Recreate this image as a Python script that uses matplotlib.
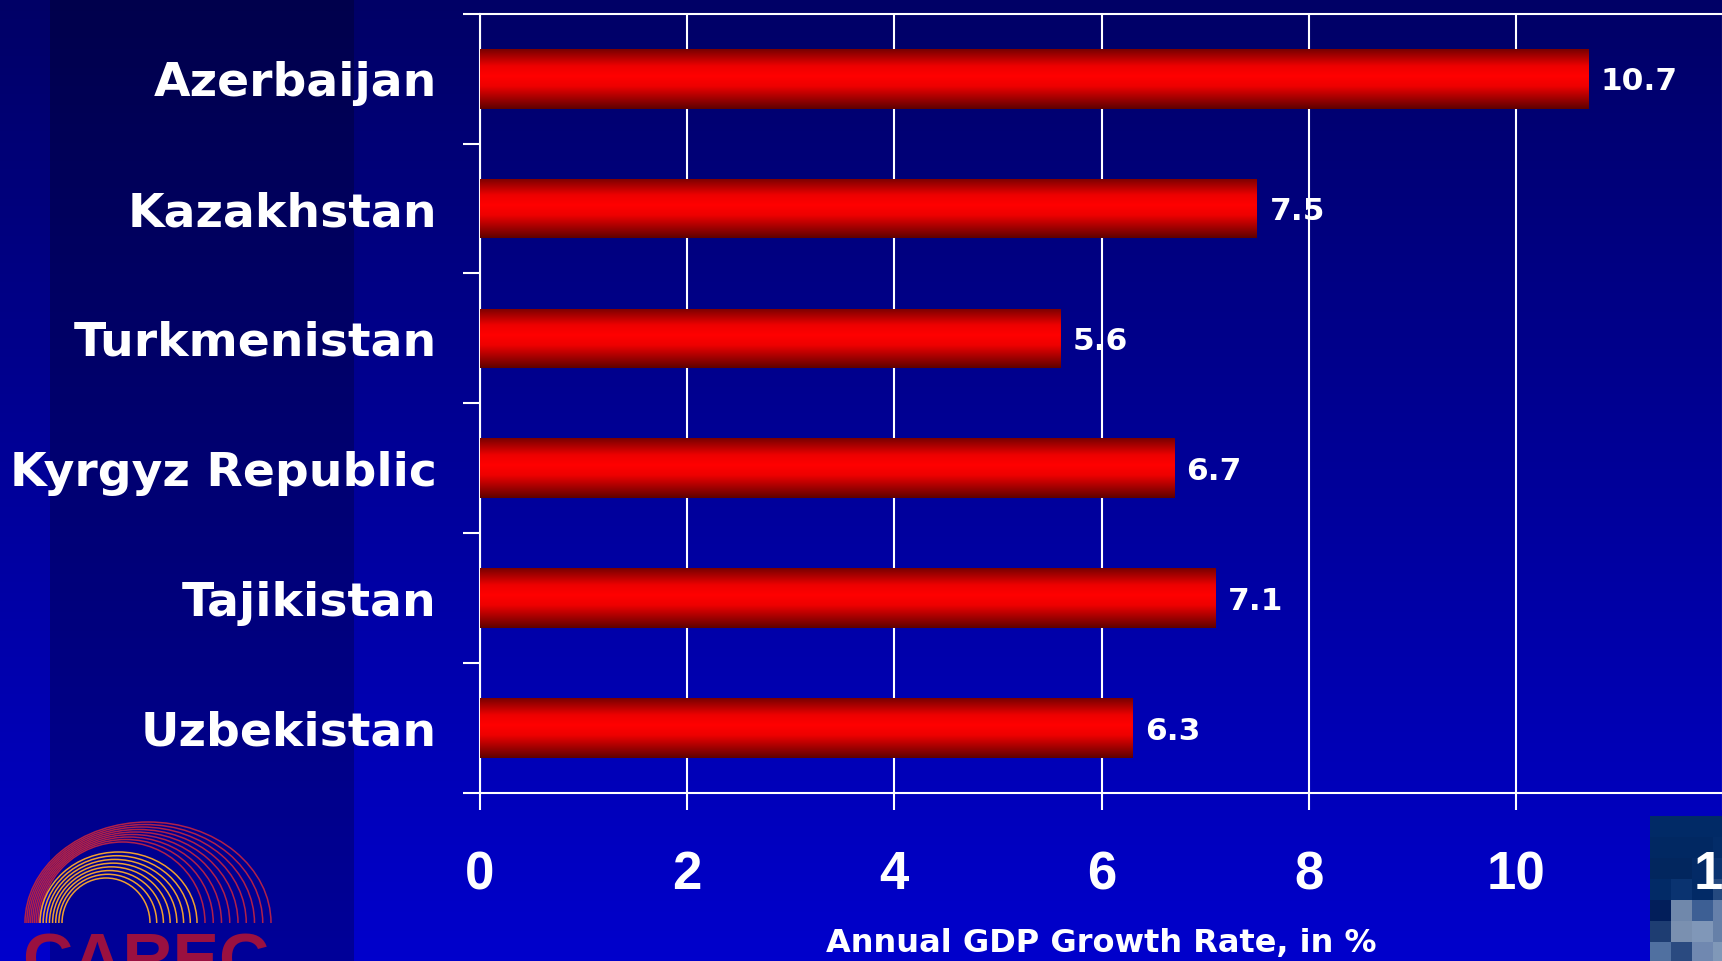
import numpy as np
import matplotlib
matplotlib.use('Agg')
import matplotlib.pyplot as plt
from matplotlib.colors import LinearSegmentedColormap, to_rgb
from matplotlib.patches import Rectangle, Arc

# data
countries = ['Azerbaijan', 'Kazakhstan', 'Turkmenistan', 'Kyrgyz Republic', 'Tajikistan', 'Uzbekistan']
growth = [10.7, 7.5, 5.6, 6.7, 7.1, 6.3]
xticks = [0, 2, 4, 6, 8, 10, 12]
xlabel = 'Annual GDP Growth Rate, in %'

W, H = 1722, 961
fig = plt.figure(figsize=(W / 100, H / 100), dpi=100)

# background: vertical gradient + darker side panel + logo
bg = fig.add_axes([0, 0, 1, 1], zorder=-10)
bg.set_xlim(0, W)
bg.set_ylim(H, 0)
bg.axis('off')
top_c = np.array(to_rgb('#000066'))
bot_c = np.array(to_rgb('#0000cc'))
t = np.linspace(0, 1, 256)[:, None, None]
grad = top_c * (1 - t) + bot_c * t
bg.imshow(grad, extent=[0, W, H, 0], aspect='auto', origin='upper')
bg.add_patch(Rectangle((50, 0), 304, H, color='black', alpha=0.25, lw=0))

# pixel square in bottom right corner
sq = ['#012a66 #012a66 #012a66 #012a66',
      '#012862 #012862 #012862 #032c68',
      '#02265e #02265e #032a66 #0a3370',
      '#022a66 #0a3370 #022a66 #24497f',
      '#021e5a #7088ab #3d5f94 #6680aa',
      '#1e3d72 #7a90b0 #8097b8 #6680a8',
      '#5070a0 #2a4a80 #7088b0 #8098b8']
sq_img = np.array([[to_rgb(c) for c in row.split()] for row in sq])
bg.imshow(sq_img, extent=[1650, 1734, 963, 816], aspect='auto', origin='upper', interpolation='nearest')

# CAREC logo arcs
for xl, xr, yt in zip(np.linspace(40, 25, 9), np.linspace(205, 271, 9), np.linspace(842, 822, 9)):
    bg.add_patch(Arc(((xl + xr) / 2, 923), xr - xl, 2 * (923 - yt), theta1=180, theta2=360,
                     color='#b0204a', lw=1.1))
for xl, xr, yt in zip(np.linspace(62, 40, 8), np.linspace(150, 197, 8), np.linspace(878, 852, 8)):
    bg.add_patch(Arc(((xl + xr) / 2, 923), xr - xl, 2 * (923 - yt), theta1=180, theta2=360,
                     color='#f0a030', lw=1.1))
bg.text(22, 982, 'CAREC', color='#9a1040', fontsize=50, fontweight='bold',
        family='Liberation Sans', ha='left', va='baseline')

# main chart
ax = fig.add_axes([480 / W, 1 - 793 / H, 1243 / W, 779.3 / H])
ax.set_facecolor('none')
y = np.arange(len(countries))
bars = ax.barh(y, growth, height=0.46, color='none', edgecolor='none', zorder=3)

cmap = LinearSegmentedColormap.from_list(
    'barred', [(0, '#780000'), (0.28, '#ee0000'), (0.45, '#ff0000'), (0.62, '#ee0000'), (1, '#5e0000')])
g = np.linspace(0, 1, 200)[:, None]
for b in bars:
    x0, y0 = b.get_x(), b.get_y()
    im = ax.imshow(g, cmap=cmap, extent=[x0, x0 + b.get_width(), y0 + b.get_height(), y0],
                   aspect='auto', origin='upper', zorder=3)
    im.set_clip_path(b)

ax.set_xlim(0, 12)
ax.set_ylim(len(countries) - 0.5, -0.5)

vals = ax.bar_label(bars, labels=[f'{v}' for v in growth], padding=9, color='white',
                    fontsize=22.5, fontweight='bold', family='DejaVu Sans')
for tx in vals:
    tx.set_va('center_baseline')

ax.set_xticks(xticks)
ax.set_xticklabels([str(v) for v in xticks], fontsize=38, fontweight='bold',
                   family='Liberation Sans', color='white')
ax.tick_params(axis='x', direction='out', length=12.2, width=1.5, color='white', pad=29)
ax.grid(axis='x', color='white', lw=1.5, zorder=1)

ax.set_yticks(y)
ax.set_yticklabels(countries, fontsize=34, fontweight='bold', family='DejaVu Sans', color='white')
ax.set_yticks(np.arange(-0.5, len(countries), 1), minor=True)
ax.tick_params(axis='y', which='major', length=0, pad=31)
ax.tick_params(axis='y', which='minor', direction='out', length=12.2, width=1.5, color='white')

for s in ['left', 'bottom', 'top']:
    ax.spines[s].set_color('white')
    ax.spines[s].set_linewidth(1.5)
ax.spines['right'].set_visible(False)

ax.set_xlabel(xlabel, fontsize=23, fontweight='bold', family='DejaVu Sans', color='white', labelpad=20)

fig.savefig('out.png', dpi=100)
